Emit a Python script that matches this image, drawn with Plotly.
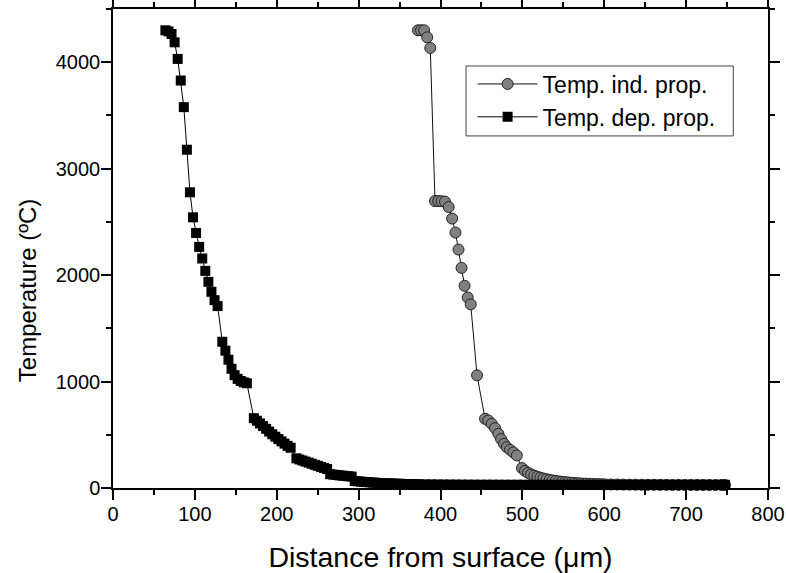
import plotly.graph_objects as go

# ---- data: Temp. ind. prop. (circles) ----
x_ind = [372.5, 376.25, 380, 383.75, 387.5,
         393.3, 397.3, 401.3, 405.5, 410, 414.2, 418.3, 422, 425.7, 429.4, 433.2, 436.9,
         444.6,
         454.4, 458.4, 462.6, 466.6, 470.7, 474, 477.6, 480.9, 484.9, 489, 493.2,
         499.5, 503.25, 507, 510.75, 514.5, 518.25, 522, 525.75, 529.5, 533.25,
         537, 540.75, 544.5, 548.25, 552, 555.75, 559.5, 563.25, 567, 570.75,
         574.5, 578.25, 582, 585.75, 589.5, 593.25, 597, 600.75,
         608.25, 615.75, 623.25, 630.75, 638.25, 645.75, 653.25, 660.75, 668.25, 675.75,
         683.25, 690.75, 698.25, 705.75, 713.25, 720.75, 728.25, 735.75, 743.25, 747.5]
y_ind = [4300, 4300, 4300, 4234, 4134,
         2696, 2696, 2694, 2690, 2640, 2531, 2400, 2240, 2068, 1900, 1790, 1725,
         1059,
         650, 634, 603, 562, 509, 459, 415, 384, 359, 334, 306,
         187, 160, 142, 128, 116, 106, 97, 89, 82, 76,
         71, 66, 62, 58, 55, 52, 49, 47, 45, 43,
         41, 40, 39, 38, 37, 36, 35, 34,
         33, 32.5, 32, 31.5, 31, 30.5, 30, 30, 29.5, 29.5,
         29, 29, 29, 28.5, 28.5, 28.5, 28, 28, 28, 28]

# ---- data: Temp. dep. prop. (squares) ----
x_dep = [64, 67.75, 71.5, 75.25, 79, 82.75, 86.5, 90.25, 94, 97.75,
         101.5, 105.25, 109, 112.75, 116.5, 120.25, 124, 127.75,
         133.5, 137.25, 141, 144.75, 148.5, 152.25, 156, 159.75, 163.5,
         172, 175.75, 179.5, 183.25, 187, 190.75, 194.5, 198.25, 202, 205.75, 209.5, 213.25, 217,
         224, 227.75, 231.5, 235.25, 239, 242.75, 246.5, 250.25, 254, 257.75, 261.5,
         265.25, 269, 272.75, 276.5, 280.25, 284, 287.75, 291.5,
         295.25, 299, 302.75, 306.5, 310.25, 314, 317.75, 321.5, 325.25, 329,
         332.75, 336.5, 340.25, 344, 347.75, 351.5, 355.25, 359, 362.75, 366.5, 370.25, 374,
         381.5, 389, 396.5, 404, 411.5, 419, 426.5, 434, 441.5, 449,
         456.5, 464, 471.5, 479, 486.5, 494, 501.5, 509, 516.5, 524,
         531.5, 539, 546.5, 554, 561.5, 569, 576.5, 584, 591.5, 599,
         606.5, 614, 621.5, 629, 636.5, 644, 651.5, 659, 666.5, 674,
         681.5, 689, 696.5, 704, 711.5, 719, 726.5, 734, 741.5, 747.5]
y_dep = [4300, 4290, 4265, 4187, 4031, 3828, 3578, 3178, 2778, 2543,
         2396, 2265, 2156, 2040, 1937, 1843, 1765, 1709,
         1374, 1290, 1205, 1120, 1060, 1025, 1005, 993, 984,
         656, 632, 607, 582, 556, 530, 505, 482, 460, 438, 417, 396, 378,
         279, 268, 258, 248, 238, 228, 218, 208, 198, 188, 178,
         130, 126, 122, 119, 116, 113, 110, 107,
         66, 63, 60, 57, 55, 53, 51, 49, 47, 46,
         44, 43, 42, 41, 40, 39, 38, 37, 36, 35.5, 35, 34.5,
         34, 33.5, 33, 32.5, 32, 32, 31.5, 31.5, 31, 31,
         31, 31, 30.5, 30.5, 30.5, 30.5, 30.5, 30, 30, 30,
         30, 30, 30, 30, 30, 30, 30, 30, 30, 30,
         30, 30, 30, 30, 30, 30, 30, 30, 30, 30,
         30, 30, 30, 30, 30, 30, 30, 30, 30, 30]

assert len(x_ind) == len(y_ind), (len(x_ind), len(y_ind))
assert len(x_dep) == len(y_dep), (len(x_dep), len(y_dep))

x_ticks = [0, 100, 200, 300, 400, 500, 600, 700, 800]
y_ticks = [0, 1000, 2000, 3000, 4000]

FONT = "Liberation Sans, Arial, Helvetica, sans-serif"

fig = go.Figure()
fig.add_trace(go.Scatter(
    x=x_ind, y=y_ind, mode="lines+markers", name="Temp. ind. prop.",
    line=dict(color="#111111", width=1),
    marker=dict(symbol="circle", size=11, color="#808080",
                line=dict(color="#222222", width=1)),
    cliponaxis=False,
))
fig.add_trace(go.Scatter(
    x=x_dep, y=y_dep, mode="lines+markers", name="Temp. dep. prop.",
    line=dict(color="#000000", width=1),
    marker=dict(symbol="square", size=10, color="#000000",
                line=dict(color="#000000", width=0)),
    cliponaxis=False,
))

axis_common = dict(
    showline=True, linecolor="black", linewidth=1.5, mirror="allticks",
    ticks="outside", ticklen=10, tickwidth=1.5, tickcolor="black",
    showgrid=False, zeroline=False, ticklabelstandoff=-3,
    tickfont=dict(family=FONT, size=20, color="black"),
)

fig.update_xaxes(
    range=[0, 800], tickvals=x_ticks, ticktext=[str(v) for v in x_ticks],
    minor=dict(ticks="outside", ticklen=5, tickwidth=1.5, dtick=50, tickcolor="black", showgrid=False),
    title=dict(text="Distance from surface (μm)", font=dict(family=FONT, size=28.5, color="black"), standoff=24),
    **axis_common,
)
fig.update_yaxes(
    range=[0, 4500], tickvals=y_ticks, ticktext=[str(v) for v in y_ticks],
    minor=dict(ticks="outside", ticklen=5, tickwidth=1.5, dtick=500, tickcolor="black", showgrid=False),
    **axis_common,
)

# y-axis title (placed slightly below the axis centre, as in the original)
fig.add_annotation(text="Temperature (ºC)", xref="paper", yref="paper",
                   x=-0.1305, y=0.412, xanchor="center", yanchor="middle",
                   textangle=-90, showarrow=False,
                   font=dict(family=FONT, size=24, color="black"))

# legend frame (paper coords relative to plot area)
fig.add_shape(type="rect", xref="paper", yref="paper",
              x0=0.539, x1=0.947, y0=0.735, y1=0.881,
              line=dict(color="#444444", width=1), fillcolor="rgba(0,0,0,0)", layer="above")

fig.update_layout(
    width=786, height=573,
    margin=dict(l=113, r=18, t=9, b=85, autoexpand=False),
    paper_bgcolor="white", plot_bgcolor="white",
    font=dict(family=FONT, color="black"),
    legend=dict(
        x=0.549, y=0.809, xanchor="left", yanchor="middle",
        bgcolor="rgba(0,0,0,0)", borderwidth=0,
        font=dict(family=FONT, size=23, color="black"),
        itemwidth=60,
    ),
    showlegend=True,
)

fig.write_html("out.html",
               config={"displayModeBar": False},
               post_script="document.body.style.margin='0';document.body.style.overflow='hidden';")
